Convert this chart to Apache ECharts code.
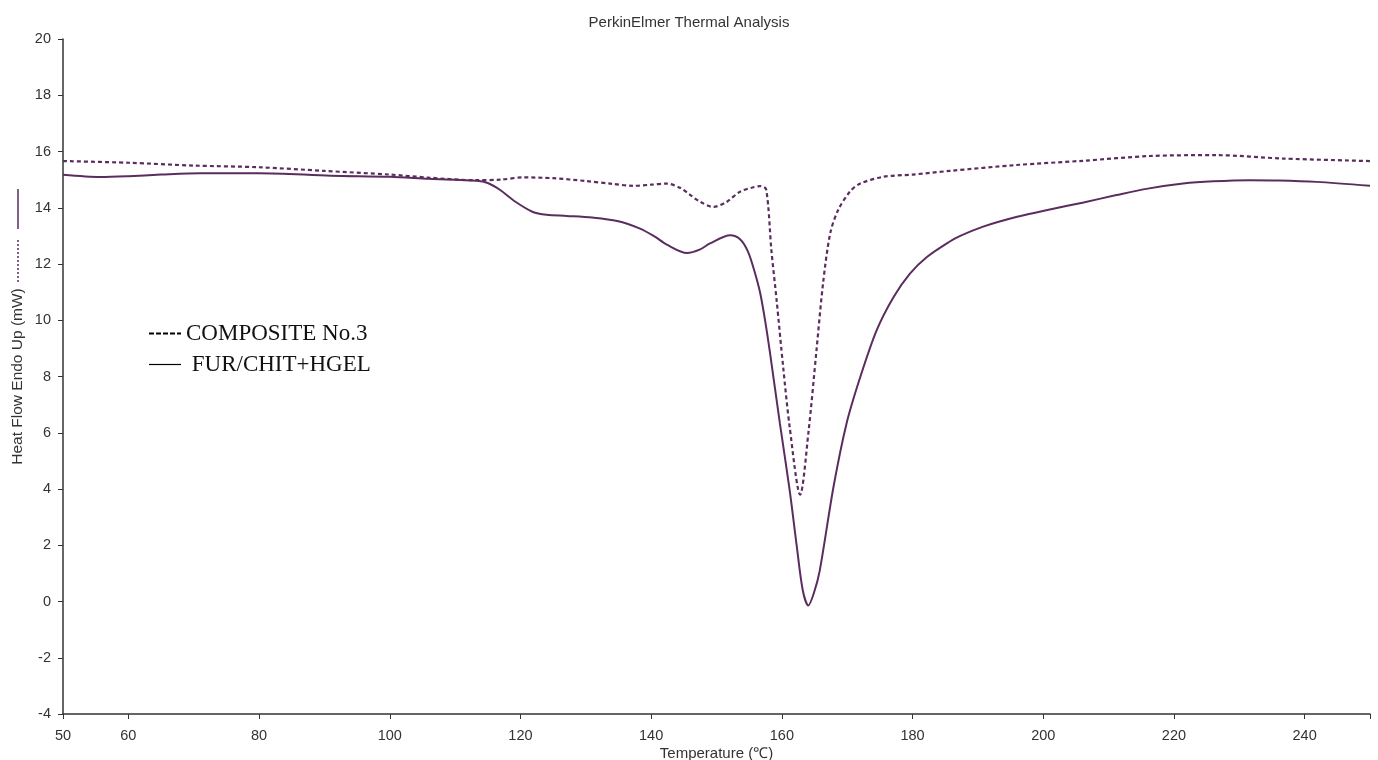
<!DOCTYPE html>
<html>
<head>
<meta charset="utf-8">
<title>PerkinElmer Thermal Analysis</title>
<script src="https://cdn.jsdelivr.net/npm/echarts@6/dist/echarts.min.js"></script>
<style>
  html, body { margin: 0; padding: 0; background: #fff; }
  #chart { width: 1378px; height: 760px; }
</style>
</head>
<body>
<div id="chart"></div>
<script>
// temperatures (°C) and heat flow (mW)
const compositeTemp = [50, 60, 70, 80, 90, 100, 106, 113, 117, 120.4, 125, 130, 134, 137.2, 140, 142.4, 144.5, 146, 147.5, 149.5, 151.5, 153.6, 155.5, 156.7, 157.6, 158.4, 159.2, 160.2, 161.2, 162.8, 164.05, 165.3, 166.3, 167.4, 168.6, 170.4, 172, 175.5, 180, 185.7, 195.9, 206.1, 216.3, 226.5, 236.7, 250]
const compositeFlow = [15.66, 15.6, 15.5, 15.44, 15.31, 15.18, 15.07, 14.98, 15.0, 15.08, 15.05, 14.95, 14.85, 14.78, 14.82, 14.86, 14.7, 14.45, 14.21, 14.03, 14.2, 14.57, 14.72, 14.77, 14.65, 12.49, 10.71, 8.34, 6.2, 3.8, 5.97, 8.93, 11.3, 13.09, 13.91, 14.57, 14.86, 15.1, 15.18, 15.31, 15.52, 15.67, 15.84, 15.87, 15.75, 15.66]

const furTemp = [50, 55.7, 60, 65, 71, 80, 91, 100, 106, 113.3, 115, 116.9, 119, 121.9, 124, 127.1, 131, 134.8, 138.3, 140.5, 142.4, 145.5, 147.5, 149, 152.1, 153.6, 154.8, 155.8, 156.7, 157.5, 158.2, 159.7, 161.2, 162.3, 163.2, 164.05, 164.9, 165.8, 167.9, 169.9, 172, 174.5, 177.1, 179.6, 182.2, 185.7, 187.3, 190.8, 196, 201, 206, 211.2, 216, 221.4, 226, 231.6, 236, 241.8, 250]
const furFlow = [15.17, 15.09, 15.12, 15.18, 15.23, 15.23, 15.14, 15.1, 15.03, 14.96, 14.88, 14.63, 14.25, 13.85, 13.75, 13.71, 13.65, 13.53, 13.26, 12.98, 12.69, 12.39, 12.52, 12.73, 13.02, 12.88, 12.45, 11.75, 10.95, 9.9, 8.82, 6.33, 3.95, 1.93, 0.4, -0.14, 0.3, 1.1, 4.07, 6.33, 7.98, 9.64, 10.83, 11.66, 12.25, 12.8, 13.0, 13.33, 13.68, 13.94, 14.18, 14.45, 14.68, 14.86, 14.94, 14.98, 14.97, 14.92, 14.78]

const tempTicks = [50, 60, 80, 100, 120, 140, 160, 180, 200, 220, 240, 250]
const tempLabels = [50, 60, 80, 100, 120, 140, 160, 180, 200, 220, 240]

const curveColor = '#5a2d5e'
const axisColor = '#333'

function pairs(xs, ys) {
  return xs.map((x, i) => [x, ys[i]])
}

const chart = echarts.init(document.getElementById('chart'))
chart.setOption({
  animation: false,
  title: {
    text: 'PerkinElmer Thermal Analysis',
    left: 'center',
    top: 10,
    textStyle: {
      fontFamily: 'Liberation Sans',
      fontSize: 15,
      fontWeight: 'normal',
      color: '#333'
    }
  },
  legend: {
    orient: 'vertical',
    left: 143,
    top: 317,
    itemWidth: 32,
    itemHeight: 14,
    itemGap: 8,
    textStyle: {
      fontFamily: 'Liberation Serif',
      fontSize: 23,
      color: '#111'
    },
    data: [
      {
        name: 'COMPOSITE No.3',
        itemStyle: { opacity: 0 },
        lineStyle: { color: '#000', width: 2, type: [5, 2] }
      },
      {
        name: ' FUR/CHIT+HGEL',
        itemStyle: { opacity: 0 },
        lineStyle: { color: '#000', width: 1.2, type: 'solid' }
      }
    ]
  },
  grid: {
    left: 63,
    right: 8,
    top: 39,
    bottom: 46,
    outerBoundsMode: 'none'
  },
  xAxis: {
    type: 'value',
    min: 50,
    max: 250,
    name: 'Temperature (℃)',
    nameLocation: 'middle',
    nameGap: 32,
    nameMoveOverlap: false,
    nameTextStyle: { fontFamily: 'Liberation Sans', fontSize: 15, color: '#333' },
    axisLine: { onZero: false, lineStyle: { color: axisColor, width: 1.5 } },
    axisTick: { length: 5, lineStyle: { color: axisColor }, customValues: tempTicks },
    axisLabel: {
      customValues: tempLabels,
      margin: 14,
      fontFamily: 'Liberation Sans',
      fontSize: 14.5,
      color: '#333'
    },
    splitLine: { show: false }
  },
  yAxis: {
    type: 'value',
    min: -4,
    max: 20,
    interval: 2,
    name: 'Heat Flow Endo Up (mW)',
    nameLocation: 'middle',
    nameGap: 37,
    nameMoveOverlap: false,
    nameTextStyle: { fontFamily: 'Liberation Sans', fontSize: 15.5, color: '#333' },
    axisLine: { show: true, lineStyle: { color: axisColor, width: 1.5 } },
    axisTick: { show: true, length: 5, lineStyle: { color: axisColor } },
    axisLabel: {
      margin: 12,
      fontFamily: 'Liberation Sans',
      fontSize: 14.5,
      color: '#333'
    },
    splitLine: { show: false }
  },
  graphic: [
    {
      type: 'line',
      shape: { x1: 18, y1: 189, x2: 18, y2: 229 },
      style: { stroke: curveColor, lineWidth: 1.5 }
    },
    {
      type: 'line',
      shape: { x1: 18, y1: 240, x2: 18, y2: 283 },
      style: { stroke: curveColor, lineWidth: 1.5, lineDash: [2, 2] }
    }
  ],
  series: [
    {
      name: 'COMPOSITE No.3',
      type: 'line',
      data: pairs(compositeTemp, compositeFlow),
      smooth: 0.3,
      symbol: 'none',
      lineStyle: { color: curveColor, width: 2.2, type: [4, 3] }
    },
    {
      name: ' FUR/CHIT+HGEL',
      type: 'line',
      data: pairs(furTemp, furFlow),
      smooth: 0.3,
      symbol: 'none',
      lineStyle: { color: curveColor, width: 2 }
    }
  ]
})
</script>
</body>
</html>
